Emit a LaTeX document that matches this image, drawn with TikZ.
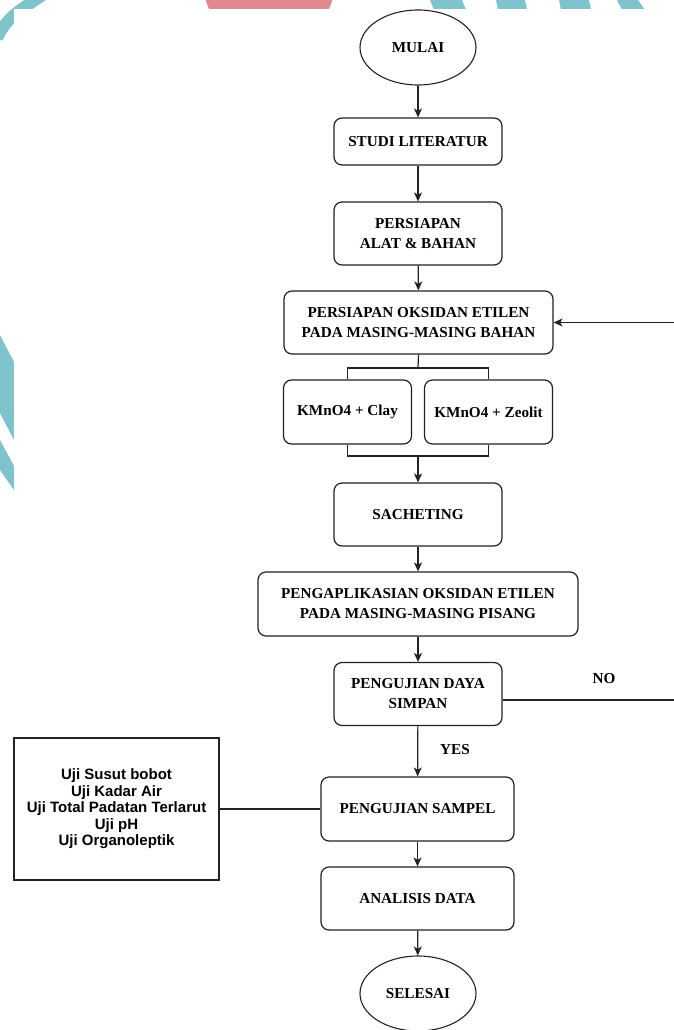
\documentclass[tikz,border=0pt]{standalone}
\usepackage{fontspec}
\usetikzlibrary{shapes.geometric,arrows.meta}
\newfontfamily\boxserif{Liberation Serif}
\newfontfamily\boxsans{Liberation Sans}
\definecolor{wmteal}{HTML}{7FC4CC}
\definecolor{wmpink}{HTML}{E08A90}
\definecolor{ln}{HTML}{222222}
\tikzset{
  fbox/.style={draw=ln, line width=1.2pt, rounded corners=8pt, align=center,
    inner sep=0pt, font=\boxserif\bfseries\fontsize{15.2}{20}\selectfont},
  term/.style={draw=ln, line width=1.1pt, ellipse, inner sep=0pt, align=center,
    font=\boxserif\bfseries\fontsize{15.2}{20}\selectfont},
  listbox/.style={draw=ln, line width=1.2pt, align=center, inner sep=0pt,
    font=\boxsans\bfseries\fontsize{15}{16.5}\selectfont},
  lab/.style={font=\boxserif\bfseries\fontsize{15.2}{20}\selectfont, inner sep=0pt},
  conn/.style={draw=ln, line width=1.2pt},
  arr/.style={conn, -{Stealth[length=9pt,width=8pt,inset=2.5pt]}}
}
\begin{document}
\begin{tikzpicture}[x=1pt,y=-1pt]
\useasboundingbox (0,0) rectangle (674,1030);
% watermark fragments in the margins
\fill[wmpink] (205,-2) -- (333,-2) -- (331,4) to[out=-110,in=-70] (207,4) -- cycle;
\fill[wmteal] (430,0) -- (462,0) -- (466,10) -- (434,10) -- cycle;
\fill[wmteal] (496,0) -- (525,0) -- (527,10) -- (498,10) -- cycle;
\fill[wmteal] (559,0) -- (589,0) -- (591,10) -- (561,10) -- cycle;
\fill[wmteal] (617,0) -- (638,0) -- (645,10) -- (622,10) -- cycle;
\draw[wmteal, line width=12pt] (44,-6) to[out=215,in=65] (-3,38);
\fill[wmteal] (0,335) -- (14,362) -- (14,440) -- (0,413) -- cycle;
\fill[wmteal] (0,440) -- (14,466) -- (14,490) -- (0,470) -- cycle;
\fill[white] (14,9) rectangle (674,1030);
% nodes
\node[term, minimum width=116pt, minimum height=75pt] (mulai) at (418,47.5) {MULAI};
\node[fbox, minimum width=168pt, minimum height=47pt] (studi) at (418,141.5) {STUDI LITERATUR};
\node[fbox, minimum width=168pt, minimum height=63pt] (alat) at (418,233.5) {PERSIAPAN\\ALAT \& BAHAN};
\node[fbox, minimum width=269pt, minimum height=63pt] (oks) at (418.5,322.5) {PERSIAPAN OKSIDAN ETILEN\\PADA MASING-MASING BAHAN};
\node[fbox, minimum width=128pt, minimum height=64pt] (clay) at (347.5,412) {KMnO4 + Clay};
\node[fbox, minimum width=128pt, minimum height=64pt] (zeo) at (488.5,412) {KMnO4 + Zeolit};
\node[fbox, minimum width=168pt, minimum height=63pt] (sach) at (418,514.5) {SACHETING};
\node[fbox, minimum width=320pt, minimum height=64pt] (aplik) at (418,604) {PENGAPLIKASIAN OKSIDAN ETILEN\\PADA MASING-MASING PISANG};
\node[fbox, minimum width=168pt, minimum height=63pt] (daya) at (418,694) {PENGUJIAN DAYA\\SIMPAN};
\node[fbox, minimum width=193pt, minimum height=64pt] (sampel) at (417.5,809) {PENGUJIAN SAMPEL};
\node[fbox, minimum width=193pt, minimum height=63pt] (anal) at (417.5,898.5) {ANALISIS DATA};
\node[term, minimum width=116pt, minimum height=75pt] (selesai) at (418,993.5) {SELESAI};
\node[listbox, minimum width=205pt, minimum height=142pt] (uji) at (116.5,809)
  {Uji Susut bobot\\Uji Kadar Air\\Uji Total Padatan Terlarut\\Uji pH\\Uji Organoleptik};
\node[lab] (no) at (604,679) {NO};
\node[lab] (yes) at (455,750) {YES};
% helper coordinates
\coordinate (bt) at (418,368);
\coordinate (bb) at (418,456);
\coordinate (noR) at (674,700);
\coordinate (backR) at (674,322.5);
% connectors
\draw[arr] (mulai) -- (studi);
\draw[arr] (studi) -- (alat);
\draw[arr] (alat) -- (oks);
\draw[conn] (oks.south) -- (bt);
\draw[conn] (clay.north) |- (bt) -| (zeo.north);
\draw[conn] (clay.south) |- (bb) -| (zeo.south);
\draw[arr] (bb) -- (sach.north);
\draw[arr] (sach) -- (aplik);
\draw[arr] (aplik) -- (daya);
\draw[conn] (daya.east |- noR) -- (noR);
\draw[arr] (backR) -- (oks.east);
\draw[arr] (daya) -- (sampel);
\draw[conn] (uji.east) -- (sampel.west);
\draw[arr] (sampel) -- (anal);
\draw[arr] (anal) -- (selesai);
\end{tikzpicture}
\end{document}
